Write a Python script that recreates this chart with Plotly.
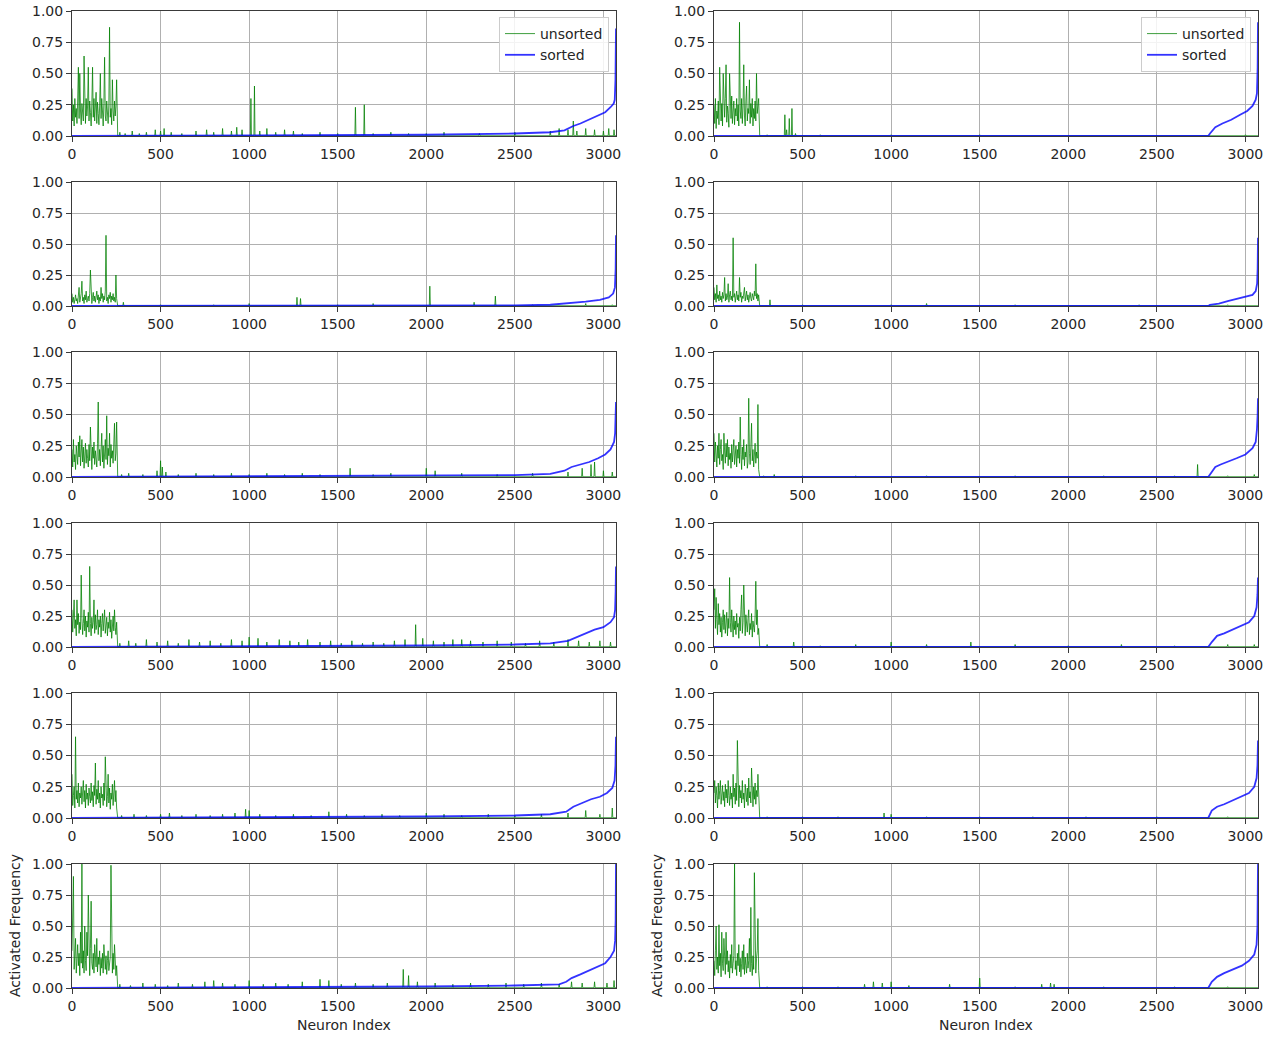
import numpy as np
import plotly.graph_objects as go
from plotly.subplots import make_subplots

N_NEURONS = 3072
DENSE_STEP = 4          # the dense block lists every 4th neuron of the first 256
XTICKS = [0, 500, 1000, 1500, 2000, 2500, 3000]
YTICKS = [0.0, 0.25, 0.5, 0.75, 1.0]

# ---- activated frequency of neurons 0..255 (every 4th neuron), one list per panel ----
dense_p1 = [0.38,0.12,0.25,0.08,0.30,0.15,0.22,0.10,0.28,0.55,0.14,0.50,0.20,0.09,0.26,0.18,
            0.12,0.64,0.22,0.10,0.30,0.16,0.24,0.55,0.12,0.28,0.19,0.08,0.25,0.55,0.15,0.30,
            0.12,0.22,0.35,0.10,0.27,0.18,0.09,0.24,0.50,0.14,0.30,0.20,0.08,0.26,0.63,0.16,
            0.12,0.28,0.18,0.10,0.25,0.87,0.15,0.22,0.09,0.45,0.20,0.12,0.28,0.16,0.24,0.45]
dense_p2 = [0.25,0.10,0.30,0.06,0.20,0.14,0.28,0.09,0.55,0.18,0.12,0.26,0.08,0.50,0.22,0.15,
            0.30,0.57,0.11,0.24,0.18,0.07,0.50,0.26,0.14,0.32,0.10,0.20,0.28,0.09,0.22,0.16,
            0.30,0.12,0.25,0.08,0.91,0.20,0.14,0.30,0.10,0.24,0.57,0.16,0.08,0.28,0.40,0.12,
            0.22,0.18,0.45,0.10,0.26,0.15,0.30,0.08,0.22,0.14,0.28,0.12,0.50,0.18,0.24,0.30]
dense_p3 = [0.10,0.03,0.07,0.02,0.05,0.09,0.04,0.06,0.02,0.08,0.15,0.03,0.06,0.10,0.20,0.04,
            0.07,0.02,0.09,0.05,0.12,0.03,0.06,0.08,0.04,0.10,0.29,0.05,0.02,0.07,0.11,0.04,
            0.08,0.03,0.06,0.12,0.05,0.09,0.02,0.07,0.04,0.15,0.06,0.10,0.03,0.08,0.05,0.12,
            0.57,0.04,0.07,0.02,0.09,0.06,0.11,0.03,0.08,0.05,0.10,0.04,0.07,0.03,0.25,0.06]
dense_p4 = [0.15,0.05,0.10,0.03,0.17,0.06,0.09,0.04,0.12,0.05,0.08,0.03,0.11,0.06,0.09,0.23,
            0.04,0.10,0.05,0.07,0.18,0.03,0.09,0.12,0.05,0.08,0.04,0.55,0.07,0.10,0.03,0.06,
            0.12,0.05,0.09,0.04,0.23,0.07,0.11,0.03,0.08,0.06,0.10,0.15,0.04,0.07,0.12,0.05,
            0.09,0.03,0.08,0.11,0.06,0.04,0.10,0.07,0.05,0.12,0.08,0.34,0.06,0.10,0.04,0.09]
dense_p5 = [0.22,0.08,0.30,0.12,0.18,0.06,0.25,0.14,0.10,0.28,0.16,0.33,0.09,0.20,0.30,0.12,
            0.24,0.07,0.18,0.27,0.11,0.22,0.15,0.08,0.26,0.13,0.40,0.19,0.06,0.24,0.15,0.28,
            0.10,0.21,0.16,0.08,0.27,0.60,0.13,0.22,0.09,0.18,0.35,0.12,0.25,0.07,0.20,0.30,
            0.14,0.49,0.10,0.23,0.17,0.35,0.08,0.26,0.15,0.21,0.11,0.28,0.43,0.13,0.19,0.44]
dense_p6 = [0.35,0.12,0.28,0.20,0.08,0.25,0.15,0.35,0.10,0.22,0.30,0.13,0.18,0.06,0.35,0.20,
            0.11,0.27,0.16,0.30,0.09,0.24,0.14,0.19,0.07,0.26,0.12,0.21,0.30,0.10,0.17,0.25,
            0.08,0.22,0.15,0.28,0.11,0.48,0.18,0.06,0.24,0.14,0.30,0.09,0.20,0.16,0.26,0.07,
            0.12,0.63,0.19,0.10,0.25,0.43,0.13,0.22,0.08,0.18,0.27,0.11,0.20,0.15,0.58,0.06]
dense_p7 = [0.30,0.12,0.25,0.38,0.15,0.22,0.09,0.38,0.18,0.27,0.11,0.20,0.14,0.58,0.23,0.10,
            0.19,0.30,0.13,0.25,0.08,0.21,0.16,0.28,0.12,0.65,0.19,0.09,0.24,0.15,0.20,0.38,
            0.11,0.26,0.14,0.18,0.30,0.10,0.22,0.16,0.25,0.08,0.19,0.27,0.13,0.21,0.30,0.11,
            0.17,0.24,0.09,0.20,0.15,0.28,0.12,0.22,0.07,0.18,0.25,0.13,0.30,0.16,0.10,0.20]
dense_p8 = [0.30,0.47,0.15,0.40,0.22,0.10,0.35,0.18,0.27,0.12,0.24,0.08,0.20,0.30,0.14,0.26,
            0.11,0.19,0.28,0.09,0.23,0.15,0.56,0.20,0.12,0.30,0.17,0.08,0.25,0.14,0.21,0.10,
            0.27,0.16,0.19,0.07,0.24,0.13,0.30,0.42,0.11,0.20,0.50,0.15,0.09,0.26,0.18,0.12,
            0.23,0.30,0.10,0.19,0.14,0.27,0.08,0.21,0.16,0.12,0.25,0.53,0.18,0.30,0.10,0.15]
dense_p9 = [0.35,0.10,0.18,0.25,0.08,0.65,0.15,0.22,0.12,0.28,0.09,0.20,0.16,0.25,0.11,0.19,
            0.30,0.13,0.22,0.08,0.27,0.15,0.20,0.10,0.24,0.17,0.12,0.28,0.14,0.21,0.09,0.26,
            0.18,0.44,0.11,0.23,0.15,0.30,0.12,0.20,0.08,0.25,0.16,0.19,0.10,0.28,0.14,0.49,
            0.22,0.09,0.17,0.35,0.12,0.24,0.07,0.20,0.15,0.27,0.10,0.18,0.30,0.13,0.22,0.08]
dense_p10 = [0.20,0.30,0.12,0.25,0.18,0.08,0.28,0.15,0.22,0.30,0.11,0.19,0.26,0.14,0.21,0.09,
             0.27,0.16,0.23,0.12,0.30,0.18,0.10,0.25,0.15,0.20,0.08,0.35,0.17,0.24,0.11,0.28,
             0.14,0.62,0.19,0.09,0.26,0.16,0.22,0.12,0.30,0.15,0.20,0.08,0.27,0.18,0.13,0.24,
             0.10,0.32,0.16,0.21,0.12,0.40,0.19,0.09,0.25,0.15,0.28,0.11,0.22,0.17,0.35,0.14]
dense_p11 = [0.30,0.55,0.90,0.15,0.25,0.40,0.12,0.22,0.35,0.18,0.28,0.10,0.45,0.20,1.00,0.16,
             0.30,0.12,0.50,0.22,0.14,0.45,0.26,0.75,0.18,0.10,0.32,0.70,0.20,0.15,0.28,0.12,
             0.35,0.22,0.17,0.40,0.13,0.25,0.19,0.30,0.10,0.24,0.16,0.28,0.12,0.35,0.20,0.15,
             0.26,0.11,0.22,0.30,0.14,0.19,0.25,0.99,0.18,0.12,0.28,0.15,0.35,0.21,0.10,0.18]
dense_p12 = [0.22,0.10,0.30,0.50,0.15,0.25,0.12,0.51,0.18,0.28,0.09,0.45,0.20,0.14,0.40,0.24,
             0.11,0.45,0.19,0.30,0.13,0.22,0.08,0.27,0.16,0.35,0.12,0.20,0.26,1.00,0.15,0.22,
             0.10,0.28,0.18,0.35,0.13,0.24,0.09,0.20,0.30,0.15,0.35,0.11,0.25,0.18,0.12,0.28,
             0.16,0.22,0.40,0.13,0.65,0.20,0.10,0.26,0.15,0.93,0.18,0.12,0.24,0.30,0.56,0.14]

# ---- sparse activations of neurons 256..3071: (neuron index, frequency) ----
tail_p1 = [(270,0.03),(300,0.02),(340,0.04),(380,0.02),(420,0.03),(470,0.05),(500,0.04),(520,0.06),
           (560,0.03),(620,0.02),(700,0.04),(760,0.05),(800,0.03),(850,0.06),(900,0.04),(930,0.07),
           (960,0.05),(1010,0.30),(1030,0.40),(1060,0.04),(1100,0.06),(1150,0.03),(1200,0.05),
           (1250,0.04),(1300,0.02),(1400,0.03),(1500,0.02),(1600,0.23),(1650,0.25),(1700,0.02),
           (1800,0.03),(1900,0.02),(2000,0.02),(2100,0.03),(2300,0.02),(2500,0.03),(2700,0.04),
           (2750,0.06),(2800,0.05),(2830,0.12),(2850,0.04),(2900,0.06),(2950,0.05),(3000,0.04),
           (3030,0.06),(3060,0.05)]
tail_p2 = [(300,0.01),(400,0.17),(410,0.05),(425,0.14),(440,0.22),(460,0.02),(600,0.01),(1000,0.01),
           (1500,0.01),(2000,0.005),(3000,0.01)]
tail_p3 = [(290,0.03),(500,0.01),(800,0.01),(1000,0.02),(1270,0.07),(1290,0.06),(1500,0.01),(1700,0.02),
           (2020,0.16),(2270,0.03),(2390,0.08),(2600,0.01),(2900,0.02),(3050,0.01)]
tail_p4 = [(316,0.05),(500,0.01),(1000,0.01),(1200,0.02),(1700,0.01),(2400,0.01),(2900,0.01)]
tail_p5 = [(280,0.02),(320,0.03),(400,0.02),(480,0.05),(500,0.13),(510,0.08),(530,0.04),(600,0.02),
           (700,0.03),(800,0.02),(900,0.03),(1000,0.02),(1100,0.03),(1200,0.02),(1300,0.03),(1400,0.02),
           (1570,0.07),(1700,0.02),(1800,0.03),(2000,0.07),(2050,0.05),(2200,0.03),(2400,0.02),
           (2600,0.03),(2800,0.04),(2880,0.07),(2930,0.10),(2950,0.12),(3000,0.05),(3050,0.04)]
tail_p6 = [(280,0.01),(340,0.02),(500,0.01),(800,0.01),(1200,0.01),(1700,0.01),(2200,0.01),(2600,0.01),
           (2730,0.10),(2900,0.01),(3050,0.02)]
tail_p7 = [(270,0.03),(320,0.05),(360,0.03),(420,0.06),(480,0.04),(540,0.05),(600,0.03),(660,0.06),
           (720,0.04),(780,0.05),(840,0.03),(900,0.06),(960,0.05),(1000,0.08),(1050,0.07),(1100,0.04),
           (1170,0.06),(1230,0.05),(1280,0.04),(1330,0.06),(1400,0.04),(1460,0.05),(1520,0.03),
           (1580,0.05),(1640,0.03),(1700,0.04),(1760,0.03),(1820,0.05),(1880,0.06),(1940,0.18),
           (1980,0.07),(2040,0.05),(2100,0.04),(2150,0.06),(2200,0.06),(2250,0.05),(2320,0.04),
           (2400,0.05),(2480,0.04),(2560,0.03),(2640,0.05),(2720,0.04),(2800,0.06),(2860,0.05),
           (2920,0.04),(2980,0.05),(3040,0.04)]
tail_p8 = [(300,0.02),(450,0.04),(600,0.01),(800,0.02),(1000,0.04),(1200,0.02),(1450,0.04),(1700,0.02),
           (2000,0.01),(2300,0.02),(2600,0.01),(2900,0.02),(3050,0.02)]
tail_p9 = [(280,0.02),(350,0.03),(420,0.02),(500,0.03),(550,0.04),(620,0.02),(700,0.03),(780,0.02),
           (850,0.03),(920,0.04),(980,0.07),(1000,0.06),(1060,0.03),(1150,0.02),(1250,0.03),(1350,0.02),
           (1450,0.05),(1550,0.03),(1650,0.02),(1750,0.03),(1850,0.02),(2000,0.04),(2100,0.03),
           (2200,0.02),(2350,0.03),(2500,0.02),(2650,0.03),(2800,0.04),(2900,0.06),(2980,0.03),
           (3050,0.08)]
tail_p10 = [(300,0.01),(500,0.01),(700,0.01),(960,0.04),(1000,0.03),(1200,0.01),(1500,0.01),(1800,0.01),
            (2100,0.01),(2500,0.01),(2900,0.01)]
tail_p11 = [(270,0.03),(330,0.02),(400,0.04),(470,0.03),(540,0.02),(600,0.04),(680,0.03),(750,0.05),
            (800,0.06),(850,0.04),(920,0.03),(1000,0.06),(1080,0.03),(1150,0.04),(1220,0.03),
            (1300,0.05),(1400,0.07),(1450,0.06),(1520,0.03),(1600,0.04),(1700,0.03),(1780,0.04),
            (1870,0.15),(1900,0.10),(1950,0.05),(2050,0.04),(2150,0.03),(2250,0.04),(2350,0.03),
            (2450,0.04),(2550,0.03),(2650,0.04),(2750,0.03),(2820,0.05),(2880,0.04),(2950,0.05),
            (3020,0.04),(3060,0.06)]
tail_p12 = [(300,0.01),(500,0.01),(700,0.01),(850,0.03),(900,0.05),(950,0.04),(1000,0.05),(1100,0.02),
            (1330,0.03),(1500,0.08),(1700,0.01),(1850,0.03),(1900,0.04),(1920,0.03),(2200,0.01),
            (2600,0.01),(2900,0.01)]

# ---- sorted activation curve: (rank, frequency) ----
sorted_p1 = [(0,0.0),(1000,0.003),(2000,0.01),(2500,0.02),(2700,0.03),(2780,0.045),(2800,0.06),
             (2830,0.08),(2870,0.10),(2920,0.13),(2970,0.16),(3010,0.19),(3040,0.23),(3058,0.26),
             (3064,0.29),(3068,0.45),(3071,0.86)]
sorted_p2 = [(0,0.0),(2790,0.0),(2800,0.02),(2830,0.07),(2870,0.10),(2920,0.13),(2970,0.17),
             (3010,0.20),(3040,0.24),(3058,0.29),(3065,0.34),(3069,0.55),(3071,0.91)]
sorted_p3 = [(0,0.0),(2000,0.002),(2500,0.005),(2700,0.01),(2800,0.02),(2900,0.035),(2980,0.05),
             (3030,0.07),(3055,0.10),(3065,0.15),(3069,0.30),(3071,0.57)]
sorted_p4 = [(0,0.0),(2790,0.0),(2800,0.01),(2850,0.02),(2900,0.04),(2950,0.06),(3000,0.075),
             (3040,0.09),(3058,0.12),(3066,0.18),(3069,0.30),(3071,0.55)]
sorted_p5 = [(0,0.0),(2000,0.008),(2500,0.015),(2700,0.025),(2780,0.05),(2820,0.08),(2870,0.10),
             (2920,0.12),(2970,0.15),(3010,0.18),(3040,0.22),(3060,0.28),(3066,0.35),(3069,0.45),
             (3071,0.60)]
sorted_p6 = [(0,0.0),(2790,0.0),(2810,0.04),(2830,0.08),(2860,0.10),(2900,0.12),(2950,0.15),
             (3000,0.18),(3040,0.23),(3058,0.28),(3065,0.38),(3069,0.50),(3071,0.63)]
sorted_p7 = [(0,0.0),(1000,0.005),(2000,0.012),(2500,0.02),(2700,0.03),(2800,0.05),(2850,0.08),
             (2900,0.11),(2950,0.14),(3000,0.16),(3040,0.20),(3060,0.24),(3066,0.30),(3069,0.45),
             (3071,0.65)]
sorted_p8 = [(0,0.0),(2790,0.0),(2810,0.04),(2840,0.09),(2880,0.11),(2930,0.14),(2980,0.17),
             (3020,0.20),(3050,0.25),(3063,0.32),(3068,0.42),(3071,0.56)]
sorted_p9 = [(0,0.0),(1000,0.005),(2000,0.012),(2500,0.02),(2700,0.03),(2790,0.05),(2830,0.09),
             (2880,0.12),(2930,0.15),(2980,0.17),(3020,0.20),(3050,0.24),(3063,0.30),(3068,0.42),
             (3071,0.65)]
sorted_p10 = [(0,0.0),(2790,0.0),(2810,0.06),(2840,0.09),(2880,0.11),(2930,0.14),(2980,0.17),
              (3020,0.20),(3050,0.25),(3063,0.32),(3068,0.42),(3071,0.62)]
sorted_p11 = [(0,0.0),(1000,0.005),(2000,0.012),(2500,0.02),(2750,0.03),(2790,0.05),(2820,0.08),
              (2870,0.11),(2920,0.14),(2970,0.17),(3010,0.20),(3040,0.25),(3060,0.30),(3066,0.38),
              (3069,0.55),(3071,1.00)]
sorted_p12 = [(0,0.0),(2790,0.0),(2810,0.05),(2840,0.09),(2880,0.12),(2930,0.15),(2980,0.18),
              (3020,0.22),(3050,0.27),(3063,0.35),(3068,0.50),(3071,1.00)]

panels = [
    (dense_p1, tail_p1, sorted_p1), (dense_p2, tail_p2, sorted_p2),
    (dense_p3, tail_p3, sorted_p3), (dense_p4, tail_p4, sorted_p4),
    (dense_p5, tail_p5, sorted_p5), (dense_p6, tail_p6, sorted_p6),
    (dense_p7, tail_p7, sorted_p7), (dense_p8, tail_p8, sorted_p8),
    (dense_p9, tail_p9, sorted_p9), (dense_p10, tail_p10, sorted_p10),
    (dense_p11, tail_p11, sorted_p11), (dense_p12, tail_p12, sorted_p12),
]

GREEN = "rgba(0,128,0,0.85)"
BLUE = "rgba(0,0,255,0.8)"
FONT = dict(family="DejaVu Sans", size=14, color="#262626")
FLOOR = 0.002

W, H = 1275, 1038
col_px = [(72, 616), (714, 1258)]
row_px = [(11, 136), (182, 306), (352, 477), (523, 647), (693, 818), (864, 988)]


def unsorted_trace(dense, tail):
    xs = list(np.arange(len(dense)) * DENSE_STEP)
    ys = list(dense)
    xs.append(len(dense) * DENSE_STEP + 2)
    ys.append(FLOOR)
    for idx, val in tail:
        xs += [idx - 3, idx, idx + 3]
        ys += [FLOOR, val, FLOOR]
    xs.append(N_NEURONS - 1)
    ys.append(FLOOR)
    return xs, ys


fig = make_subplots(rows=6, cols=2)

for k, (dense, tail, srt) in enumerate(panels):
    r, c = k // 2 + 1, k % 2 + 1
    legend_name = "legend" if c == 1 else "legend2"
    gx, gy = unsorted_trace(dense, tail)
    fig.add_trace(go.Scatter(x=gx, y=gy, mode="lines", name="unsorted",
                             line=dict(color=GREEN, width=0.9),
                             showlegend=(r == 1), legend=legend_name), row=r, col=c)
    sx = [p[0] for p in srt]
    sy = [p[1] for p in srt]
    fig.add_trace(go.Scatter(x=sx, y=sy, mode="lines", name="sorted",
                             line=dict(color=BLUE, width=1.8),
                             showlegend=(r == 1), legend=legend_name), row=r, col=c)

    x0, x1 = col_px[c - 1]
    y0, y1 = row_px[r - 1]
    fig.update_xaxes(domain=[x0 / W, x1 / W], row=r, col=c)
    fig.update_yaxes(domain=[1 - y1 / H, 1 - y0 / H], row=r, col=c)

axis_common = dict(showline=True, mirror=True, linecolor="#3a3a3a", linewidth=1,
                   showgrid=True, gridcolor="#b0b0b0", gridwidth=1, zeroline=False,
                   ticks="outside", ticklen=5, tickwidth=1, tickcolor="#3a3a3a",
                   tickfont=FONT, automargin=False)
fig.update_xaxes(range=[0, N_NEURONS - 1], tickvals=XTICKS, **axis_common)
fig.update_yaxes(range=[0, 1], tickvals=YTICKS, tickformat=".2f", **axis_common)

legend_style = dict(xanchor="right", yanchor="top", y=1 - 17 / H,
                    bgcolor="rgba(255,255,255,0.85)", bordercolor="#cccccc", borderwidth=1,
                    font=FONT, tracegroupgap=0)

annotations = []
for c in (1, 2):
    x0, x1 = col_px[c - 1]
    annotations.append(dict(text="Neuron Index", x=(x0 + x1) / 2 / W, y=1 - 1025 / H,
                            xref="paper", yref="paper", showarrow=False, font=FONT,
                            xanchor="center", yanchor="middle"))
    annotations.append(dict(text="Activated Frequency", x=(x0 - 57) / W,
                            y=1 - (row_px[5][0] + row_px[5][1]) / 2 / H,
                            xref="paper", yref="paper", showarrow=False, font=FONT,
                            textangle=-90, xanchor="center", yanchor="middle"))

fig.update_layout(
    width=W, height=H, margin=dict(l=0, r=0, t=0, b=0, autoexpand=False),
    paper_bgcolor="white", plot_bgcolor="white",
    font=FONT,
    legend=dict(x=609 / W, **legend_style),
    legend2=dict(x=1251 / W, **legend_style),
    annotations=annotations,
)

fig.write_html("out.html")
